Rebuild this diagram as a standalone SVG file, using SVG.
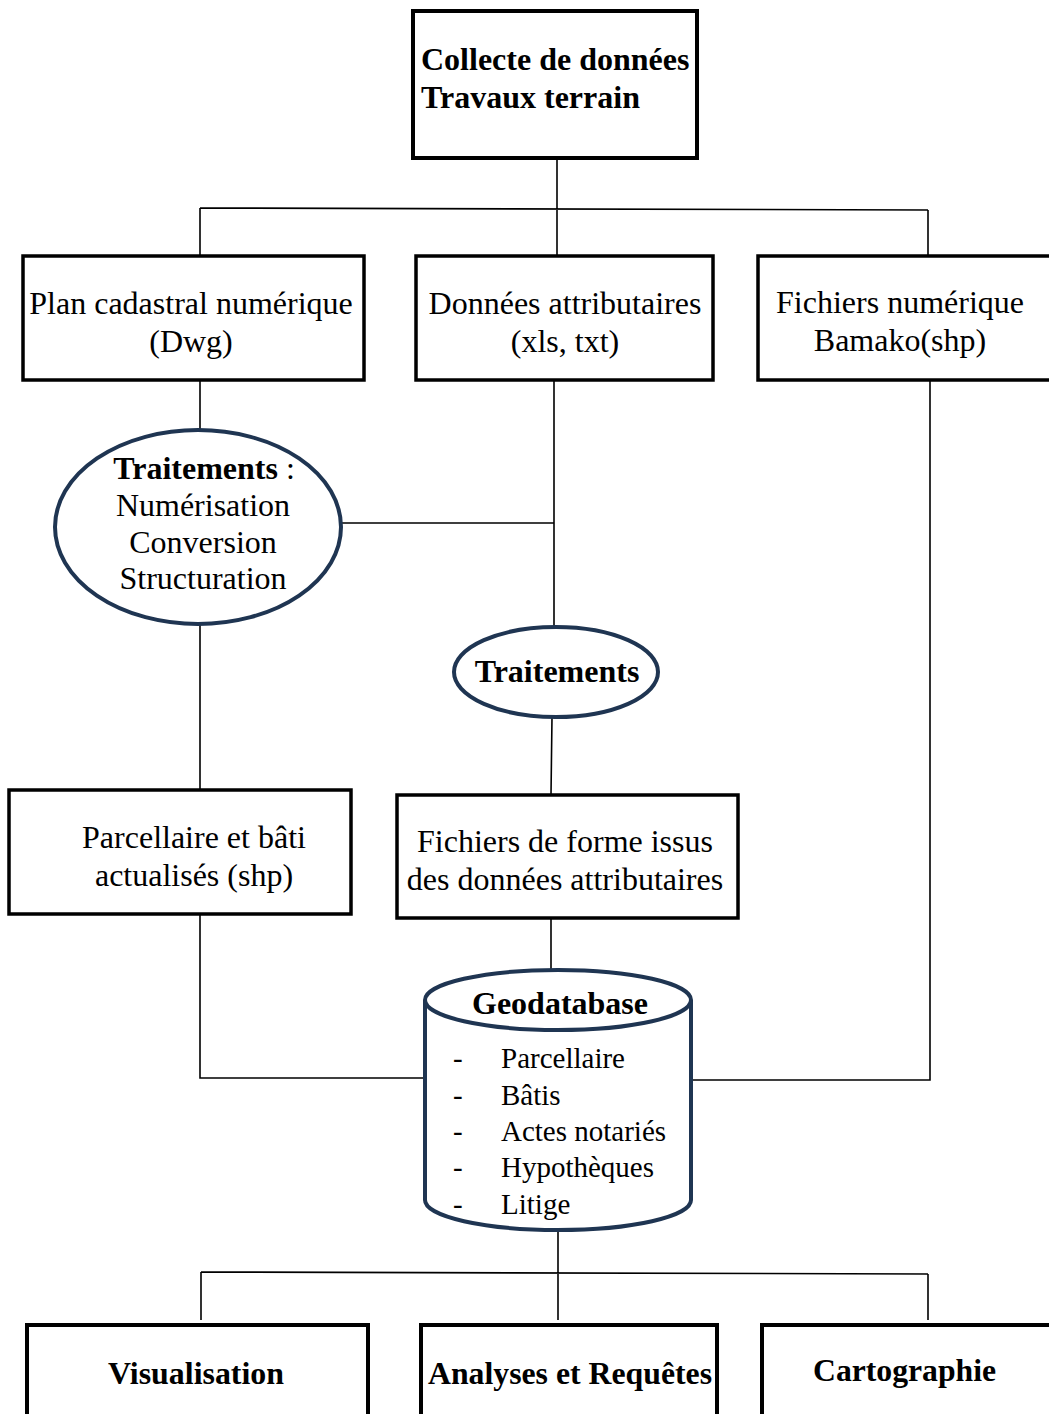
<svg xmlns="http://www.w3.org/2000/svg" width="1049" height="1414" viewBox="0 0 1049 1414">
<style>
.box{fill:#fff;stroke:#000;stroke-width:4}
.box3{fill:#fff;stroke:#000;stroke-width:3.5}
.ell{fill:#fff;stroke:#1f3552;stroke-width:4}
.ln{fill:none;stroke:#000;stroke-width:1.6}
.t{font-family:"Liberation Serif","Times New Roman",serif;font-size:32px;fill:#000}
.li{font-size:29px}
.b{font-weight:bold}
.m{text-anchor:middle}
</style>
<rect width="1049" height="1414" fill="#fff"/>
<g id="connectors">
<path class="ln" d="M557,158 V256 M200,208 L928,210 M200,208 V256 M928,210 V256"/>
<path class="ln" d="M200,380 V430 M554,380 V628 M341,523 H554 M552,717 L551,795 M200,624 V790"/>
<path class="ln" d="M551,918 V970 M200,914 V1078 H427 M930,380 V1080 H692"/>
<path class="ln" d="M558,1232 V1320 M201,1272 L928,1274 M201,1272 V1320 M928,1274 V1320"/>
</g>
<g id="n-collecte">
<rect class="box" x="413" y="11" width="284" height="147"/>
<text class="t b" x="421" y="70" font-size="34">Collecte de données</text>
<text class="t b" x="421" y="108" font-size="34">Travaux terrain</text>
</g>
<g id="n-plan">
<rect class="box3" x="23" y="256" width="341" height="124"/>
<text class="t m" x="191" y="314">Plan cadastral numérique</text>
<text class="t m" x="191" y="352">(Dwg)</text>
</g>
<g id="n-donnees">
<rect class="box3" x="416" y="256" width="297" height="124"/>
<text class="t m" x="565" y="314">Données attributaires</text>
<text class="t m" x="565" y="352">(xls, txt)</text>
</g>
<g id="n-fichiers">
<rect class="box3" x="758" y="256" width="300" height="124"/>
<text class="t m" x="900" y="313">Fichiers numérique</text>
<text class="t m" x="900" y="351">Bamako(shp)</text>
</g>
<g id="n-traitements1">
<ellipse class="ell" cx="198" cy="527" rx="143" ry="97"/>
<text class="t m" x="204" y="479"><tspan class="b">Traitements</tspan> :</text>
<text class="t m" x="203" y="516">Numérisation</text>
<text class="t m" x="203" y="553">Conversion</text>
<text class="t m" x="203" y="589">Structuration</text>
</g>
<g id="n-traitements2">
<ellipse class="ell" cx="556" cy="672" rx="102" ry="45"/>
<text class="t b m" x="557" y="682">Traitements</text>
</g>
<g id="n-parcellaire">
<rect class="box3" x="9" y="790" width="342" height="124"/>
<text class="t m" x="194" y="848">Parcellaire et bâti</text>
<text class="t m" x="194" y="886">actualisés (shp)</text>
</g>
<g id="n-forme">
<rect class="box3" x="397" y="795" width="341" height="123"/>
<text class="t m" x="565" y="852">Fichiers de forme issus</text>
<text class="t m" x="565" y="890">des données attributaires</text>
</g>
<g id="n-geodatabase">
<path class="ell" d="M425,1000 V1200 A133,30 0 0 0 691,1200 V1000"/>
<ellipse class="ell" cx="558" cy="1000" rx="133" ry="30"/>
<text class="t b m" x="560" y="1014">Geodatabase</text>
<text class="t li" x="453" y="1068">-</text><text class="t li" x="501" y="1068">Parcellaire</text>
<text class="t li" x="453" y="1105">-</text><text class="t li" x="501" y="1105">Bâtis</text>
<text class="t li" x="453" y="1141">-</text><text class="t li" x="501" y="1141">Actes notariés</text>
<text class="t li" x="453" y="1177">-</text><text class="t li" x="501" y="1177">Hypothèques</text>
<text class="t li" x="453" y="1214">-</text><text class="t li" x="501" y="1214">Litige</text>
</g>
<g id="n-visualisation">
<rect class="box" x="27" y="1325" width="341" height="100"/>
<text class="t b" x="108" y="1384" font-size="34" textLength="176" lengthAdjust="spacingAndGlyphs">Visualisation</text>
</g>
<g id="n-analyses">
<rect class="box" x="421" y="1325" width="296" height="100"/>
<text class="t b" x="428" y="1384" font-size="34" textLength="284" lengthAdjust="spacingAndGlyphs">Analyses et Requêtes</text>
</g>
<g id="n-cartographie">
<rect class="box" x="762" y="1325" width="300" height="100"/>
<text class="t b" x="813" y="1381" font-size="34" textLength="183" lengthAdjust="spacingAndGlyphs">Cartographie</text>
</g>
</svg>
